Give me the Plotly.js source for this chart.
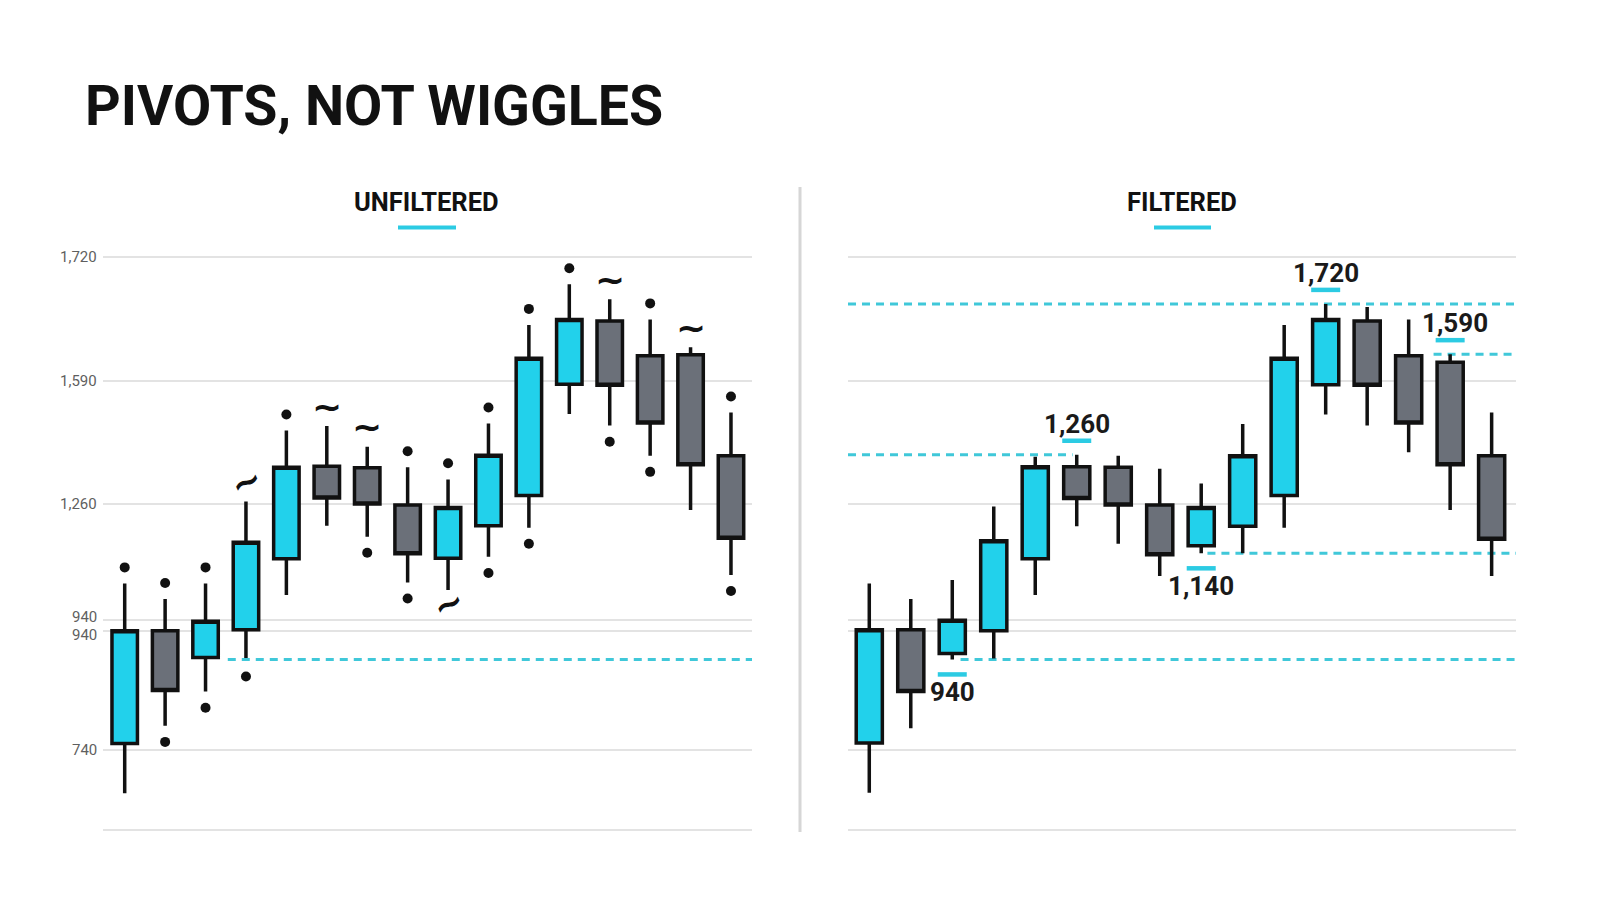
<!DOCTYPE html>
<html>
<head>
<meta charset="utf-8">
<script src="https://cdn.plot.ly/plotly-3.0.1.min.js"></script>
<style>html,body{margin:0;padding:0;background:#fff;}#chart{width:1600px;height:914px;}</style>
</head>
<body>
<div id="chart"></div>
<script>
// ---------- DATA ----------
const candleIndex = [0,1,2,3,4,5,6,7,8,9,10,11,12,13,14,15];

// UNFILTERED panel
const rawOpen  = [753, 977, 924, 979, 1120, 1304, 1301, 1227, 1121, 1186, 1246, 1467, 1593, 1524, 1526, 1325];
const rawHigh  = [1071, 1040, 1071, 1234, 1375, 1384, 1343, 1302, 1278, 1389, 1585, 1666, 1636, 1596, 1541, 1411];
const rawLow   = [654, 788, 856, 918, 1048, 1186, 1164, 1073, 1058, 1124, 1182, 1408, 1385, 1325, 1217, 1088];
const rawClose = [977, 858, 996, 1153, 1302, 1241, 1229, 1130, 1222, 1326, 1519, 1596, 1465, 1390, 1307, 1161];
const rawTopMark    = ['dot','dot','dot','tilde','dot','tilde','tilde','dot','dot','dot','dot','dot','tilde','dot','tilde','dot'];
const rawBottomMark = ['','dot','dot','dot','','','dot','dot','tilde','dot','dot','','dot','dot','','dot'];

// FILTERED panel
const filtOpen  = [754, 979, 932, 977, 1120, 1303, 1302, 1227, 1146, 1185, 1246, 1466, 1593, 1524, 1511, 1325];
const filtHigh  = [1071, 1040, 1078, 1224, 1323, 1327, 1325, 1299, 1270, 1388, 1585, 1627, 1621, 1596, 1527, 1411];
const filtLow   = [655, 783, 920, 922, 1048, 1185, 1150, 1086, 1131, 1131, 1182, 1407, 1385, 1332, 1217, 1086];
const filtClose = [979, 856, 998, 1156, 1303, 1240, 1227, 1128, 1222, 1325, 1519, 1596, 1465, 1390, 1307, 1159];

// Pivots of the filtered panel
const pivotIndex = [2, 5, 8, 11, 14];
const pivotSide  = ['low', 'high', 'low', 'high', 'high'];
const pivotLabel = ['940', '1,260', '1,140', '1,720', '1,590'];

// Y axis ticks
const tickValues = [1720, 1473.5, 1229, 998.4, 976.5, 740, 581];
const tickLabels = ['1,720', '1,590', '1,260', '940', '940', '740', ''];

// Titles
const mainTitle = 'PIVOTS, NOT WIGGLES';
const panelTitles = ['UNFILTERED', 'FILTERED'];

// ---------- STYLE ----------
const CYAN = '#22D1EB';
const GRAY = '#6B7079';
const INK = '#111111';
const BAR_CYAN = '#2CCBE3';
const DASH_CYAN = '#40C8D9';
const MARK_GAP = 32;          // value units between wick end and marker
const X1_RANGE = [-0.537, 15.52];
const X2_RANGE = [-0.513, 15.587];
const Y_RANGE = [551, 1760];
const pivotExtent = [[0.2, null], [null, -0.1], [0.15, null], [null, null], [-0.4, null]];
const pivotTextDx = [0, 0, 0, 0, 5];
// the two close "940" tick labels are nudged apart (px)
const tickLabelShift = [0, 0, 0, 3, -4, 0, 0];

function candle(o,h,l,c,xa,ya){
  return {
    type:'candlestick', x:candleIndex, open:o, high:h, low:l, close:c,
    xaxis:xa, yaxis:ya, whiskerwidth:0, hoverinfo:'skip',
    increasing:{fillcolor:CYAN, line:{color:INK, width:3.5}},
    decreasing:{fillcolor:GRAY, line:{color:INK, width:3.5}},
    showlegend:false
  };
}

const traces = [
  candle(rawOpen, rawHigh, rawLow, rawClose, 'x', 'y'),
  candle(filtOpen, filtHigh, filtLow, filtClose, 'x2', 'y2')
];

const dotX = [], dotY = [];
candleIndex.forEach(i => {
  if (rawTopMark[i] === 'dot') { dotX.push(i); dotY.push(rawHigh[i] + MARK_GAP); }
  if (rawBottomMark[i] === 'dot') { dotX.push(i); dotY.push(rawLow[i] - MARK_GAP); }
});
traces.push({type:'scatter', mode:'markers', x:dotX, y:dotY, xaxis:'x', yaxis:'y',
  marker:{color:INK, size:10}, hoverinfo:'skip', showlegend:false, cliponaxis:false});

const annotations = [];
const shapes = [];

// y tick labels (drawn as text so the two 940 labels can sit apart)
tickValues.forEach((v, k) => {
  if (!tickLabels[k]) return;
  annotations.push({xref:'paper', yref:'y', x:99/1600, y:v, xanchor:'right', yanchor:'middle',
    yshift:tickLabelShift[k], text:tickLabels[k], showarrow:false,
    font:{family:'Roboto', size:15, color:'#5f5f5f'}});
});

// tildes
candleIndex.forEach(i => {
  const tildeFont = {family:'DejaVu Sans', size:36, color:INK, weight:700};
  if (rawTopMark[i] === 'tilde') {
    annotations.push({xref:'x', yref:'y', x:i, y:rawHigh[i], yshift:20, text:'~', showarrow:false,
      font:tildeFont, textangle: i === 3 ? -25 : 0});
  }
  if (rawBottomMark[i] === 'tilde') {
    annotations.push({xref:'x', yref:'y', x:i, y:rawLow[i], yshift:-13, text:'~', showarrow:false,
      font:tildeFont, textangle:-25});
  }
});

const level940 = filtLow[pivotIndex[0]];
shapes.push({type:'line', xref:'x', yref:'y', x0:2.55, x1:X1_RANGE[1], y0:level940, y1:level940,
  line:{color:DASH_CYAN, width:3, dash:'8px,6px'}});

pivotIndex.forEach((idx, k) => {
  const isHigh = pivotSide[k] === 'high';
  const level = isHigh ? filtHigh[idx] : filtLow[idx];
  const ext = pivotExtent[k];
  const x0 = ext[0] === null ? X2_RANGE[0] : idx + ext[0];
  const x1 = ext[1] === null ? X2_RANGE[1] : idx + ext[1];
  shapes.push({type:'line', xref:'x2', yref:'y2', x0:x0, x1:x1, y0:level, y1:level,
    line:{color:DASH_CYAN, width:3, dash:'8px,6px'}, layer:'below'});
  const off = isHigh ? 14 : -15;
  shapes.push({type:'line', xref:'x2', yref:'y2', xsizemode:'pixel', xanchor:idx, x0:-14.5, x1:14.5,
    ysizemode:'pixel', yanchor:level, y0:off, y1:off, line:{color:BAR_CYAN, width:4.5}});
  annotations.push({xref:'x2', yref:'y2', x:idx, y:level, xshift:pivotTextDx[k], yshift: isHigh ? 31 : -33,
    text:pivotLabel[k], showarrow:false,
    font:{family:'Roboto', size:26, weight:700, color:'#1a1a1a'}});
});

const panelCenters = [427/1600, 1182/1600];
const underline = [[398, 456], [1154, 1211]];
panelTitles.forEach((t, k) => {
  annotations.push({xref:'paper', yref:'paper', x:panelCenters[k], y:1-202/914, xanchor:'center', yanchor:'middle',
    text:t, showarrow:false, font:{family:'Roboto', size:25.5, weight:700, color:INK}});
  shapes.push({type:'line', xref:'paper', yref:'paper', x0:underline[k][0]/1600, x1:underline[k][1]/1600,
    y0:1-227.5/914, y1:1-227.5/914, line:{color:BAR_CYAN, width:4}});
});

shapes.push({type:'line', xref:'paper', yref:'paper', x0:0.5, x1:0.5, y0:1-832/914, y1:1-187/914,
  line:{color:'#d6d6d6', width:3}});

const yBase = {
  range:Y_RANGE, domain:[1-845/914, 1-237/914], tickmode:'array', tickvals:tickValues, ticktext:tickLabels,
  showgrid:true, gridcolor:'#e3e3e3', gridwidth:1.5, zeroline:false, showline:false, ticks:'',
  showticklabels:false, fixedrange:true
};

const layout = {
  width:1600, height:914, margin:{l:0, r:0, t:0, b:0},
  paper_bgcolor:'#ffffff', plot_bgcolor:'#ffffff',
  hovermode:false, showlegend:false,
  boxgap:0.37, boxgroupgap:0,
  title:{text:mainTitle, x:85/1600, xanchor:'left', xref:'paper', y:1-106/914, yanchor:'middle',
    font:{family:'Roboto', size:55.5, weight:700, color:INK}},
  xaxis:{domain:[103/1600, 752/1600], range:X1_RANGE, showgrid:false, zeroline:false, showticklabels:false,
    showline:false, rangeslider:{visible:false}, fixedrange:true},
  xaxis2:{domain:[848/1600, 1516/1600], range:X2_RANGE, showgrid:false, zeroline:false, showticklabels:false,
    showline:false, rangeslider:{visible:false}, fixedrange:true, anchor:'y2'},
  yaxis:Object.assign({}, yBase, {anchor:'x'}),
  yaxis2:Object.assign({}, yBase, {anchor:'x2'}),
  shapes:shapes, annotations:annotations
};

Plotly.newPlot('chart', traces, layout, {displayModeBar:false, staticPlot:true});
</script>
</body>
</html>
